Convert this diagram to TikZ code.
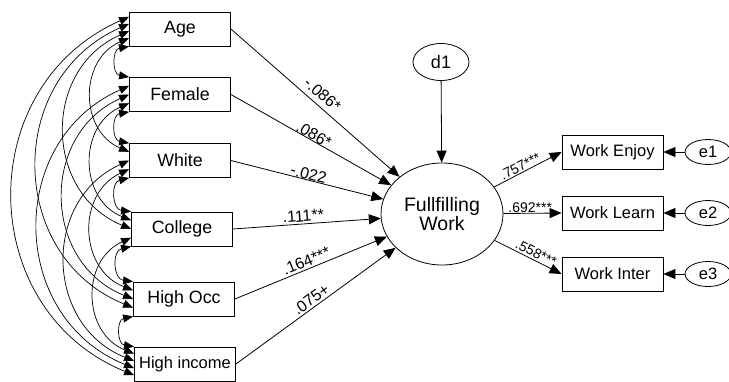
\documentclass[tikz,border=0pt]{standalone}
\usepackage{fontspec}
\setmainfont{Liberation Sans}
\usetikzlibrary{arrows.meta,calc,shapes.geometric}
\begin{document}
\begin{tikzpicture}[x=1pt,y=-1pt,
  box/.style={draw, line width=0.8pt, minimum width=101pt, minimum height=34pt, inner sep=0pt, font=\fontsize{17.8}{20}\selectfont},
  wbox/.style={box, font=\fontsize{16.5}{19}\selectfont},
  ell/.style={draw, ellipse, line width=0.8pt, inner sep=0pt},
  arr/.style={line width=0.8pt, -{Triangle[length=12pt,width=10pt]}},
  corr/.style={line width=0.7pt, {Triangle[length=10pt,width=8pt]}-{Triangle[length=10pt,width=8pt]}},
  near/.style={bend right=80, looseness=1.45},
  far/.style={bend right=67, looseness=1.225},
  lab/.style={font=\fontsize{16}{18}\selectfont, inner sep=2pt, sloped},
  slab/.style={font=\fontsize{14}{16}\selectfont, inner sep=2pt, sloped},
]
\useasboundingbox (0,0) rectangle (729,381);

% exogenous boxes
\node[box] (age) at (180,29) {Age};
\node[box] (female) at (180,94.5) {Female};
\node[box] (white) at (180,160.5) {White};
\node[box] (college) at (182,229) {College};
\node[box] (highocc) at (184,299) {High Occ};
\node[wbox] (highinc) at (185,364) {High income};

% latent and error terms
\node[ell, minimum width=122pt, minimum height=102pt, align=center, font=\fontsize{19.5}{19.5}\selectfont] (fw) at (442,214) {Fullfilling\\Work};
\node[ell, minimum width=56pt, minimum height=37pt, font=\fontsize{18}{20}\selectfont] (d1) at (441,62) {d1};

\node[wbox] (we) at (612.5,152) {Work Enjoy};
\node[wbox] (wl) at (612.5,213) {Work Learn};
\node[wbox] (wi) at (612.5,274) {Work Inter};

\node[ell, minimum width=46pt, minimum height=25pt, font=\fontsize{16.5}{18}\selectfont] (e1) at (708,152) {e1};
\node[ell, minimum width=46pt, minimum height=25pt, font=\fontsize{16.5}{18}\selectfont] (e2) at (708,213) {e2};
\node[ell, minimum width=46pt, minimum height=25pt, font=\fontsize{16.5}{18}\selectfont] (e3) at (708,274) {e3};

% attachment points on the left edges
\coordinate (p12) at ($(age.north west)!1!(age.south west)$);
\coordinate (p13) at ($(age.north west)!0.76!(age.south west)$);
\coordinate (p14) at ($(age.north west)!0.56!(age.south west)$);
\coordinate (p15) at ($(age.north west)!0.35!(age.south west)$);
\coordinate (p16) at ($(age.north west)!0.15!(age.south west)$);

\coordinate (p21) at ($(female.north west)!0!(female.south west)$);
\coordinate (p26) at ($(female.north west)!0.25!(female.south west)$);
\coordinate (p25) at ($(female.north west)!0.5!(female.south west)$);
\coordinate (p24) at ($(female.north west)!0.75!(female.south west)$);
\coordinate (p23) at ($(female.north west)!1!(female.south west)$);

\coordinate (p32) at ($(white.north west)!0!(white.south west)$);
\coordinate (p31) at ($(white.north west)!0.25!(white.south west)$);
\coordinate (p36) at ($(white.north west)!0.5!(white.south west)$);
\coordinate (p35) at ($(white.north west)!0.75!(white.south west)$);
\coordinate (p34) at ($(white.north west)!1!(white.south west)$);

\coordinate (p43) at ($(college.north west)!0!(college.south west)$);
\coordinate (p42) at ($(college.north west)!0.25!(college.south west)$);
\coordinate (p41) at ($(college.north west)!0.5!(college.south west)$);
\coordinate (p46) at ($(college.north west)!0.75!(college.south west)$);
\coordinate (p45) at ($(college.north west)!1!(college.south west)$);

\coordinate (p54) at ($(highocc.north west)!0!(highocc.south west)$);
\coordinate (p53) at ($(highocc.north west)!0.25!(highocc.south west)$);
\coordinate (p52) at ($(highocc.north west)!0.5!(highocc.south west)$);
\coordinate (p51) at ($(highocc.north west)!0.75!(highocc.south west)$);
\coordinate (p56) at ($(highocc.north west)!1!(highocc.south west)$);

\coordinate (p65) at ($(highinc.north west)!0!(highinc.south west)$);
\coordinate (p64) at ($(highinc.north west)!0.2!(highinc.south west)$);
\coordinate (p63) at ($(highinc.north west)!0.41!(highinc.south west)$);
\coordinate (p62) at ($(highinc.north west)!0.62!(highinc.south west)$);
\coordinate (p61) at ($(highinc.north west)!0.82!(highinc.south west)$);

% correlations
\draw[corr] (p12) to[near] (p21);
\draw[corr] (p13) to[far] (p31);
\draw[corr] (p14) to[far] (p41);
\draw[corr] (p15) to[far] (p51);
\draw[corr] (p16) to[far] (p61);
\draw[corr] (p23) to[near] (p32);
\draw[corr] (p24) to[far] (p42);
\draw[corr] (p25) to[far] (p52);
\draw[corr] (p26) to[far] (p62);
\draw[corr] (p34) to[near] (p43);
\draw[corr] (p35) to[far] (p53);
\draw[corr] (p36) to[far] (p63);
\draw[corr] (p45) to[near] (p54);
\draw[corr] (p46) to[far] (p64);
\draw[corr] (p56) to[near] (p65);

% regression paths
\draw[arr] (age.east) -- (fw) node[lab, pos=0.5, above=3pt] {-.086*};
\draw[arr] (female.east) -- (fw) node[lab, pos=0.5, above=-2pt] {.086*};
\draw[arr] (white.east) -- (fw) node[lab, pos=0.5, above=-2pt] {-.022};
\draw[arr] (college.east) -- (fw) node[lab, pos=0.48, above=0pt] {.111**};
\draw[arr] (highocc.east) -- (fw) node[lab, pos=0.49, above=0pt] {.164***};
\draw[arr] (highinc.east) -- (fw) node[lab, pos=0.5, above=0pt] {.075+};

\draw[arr] (d1) -- (fw);

\draw[arr] (fw) -- (we.west) node[slab, pos=0.43, above=-1pt] {.757***};
\draw[arr] (fw) -- (wl.west) node[slab, pos=0.46, above=-2pt] {.692***};
\draw[arr] (fw) -- (wi.west) node[slab, pos=0.57, above=0pt] {.558***};

\draw[arr] (e1) -- (we);
\draw[arr] (e2) -- (wl);
\draw[arr] (e3) -- (wi);
\end{tikzpicture}
\end{document}
